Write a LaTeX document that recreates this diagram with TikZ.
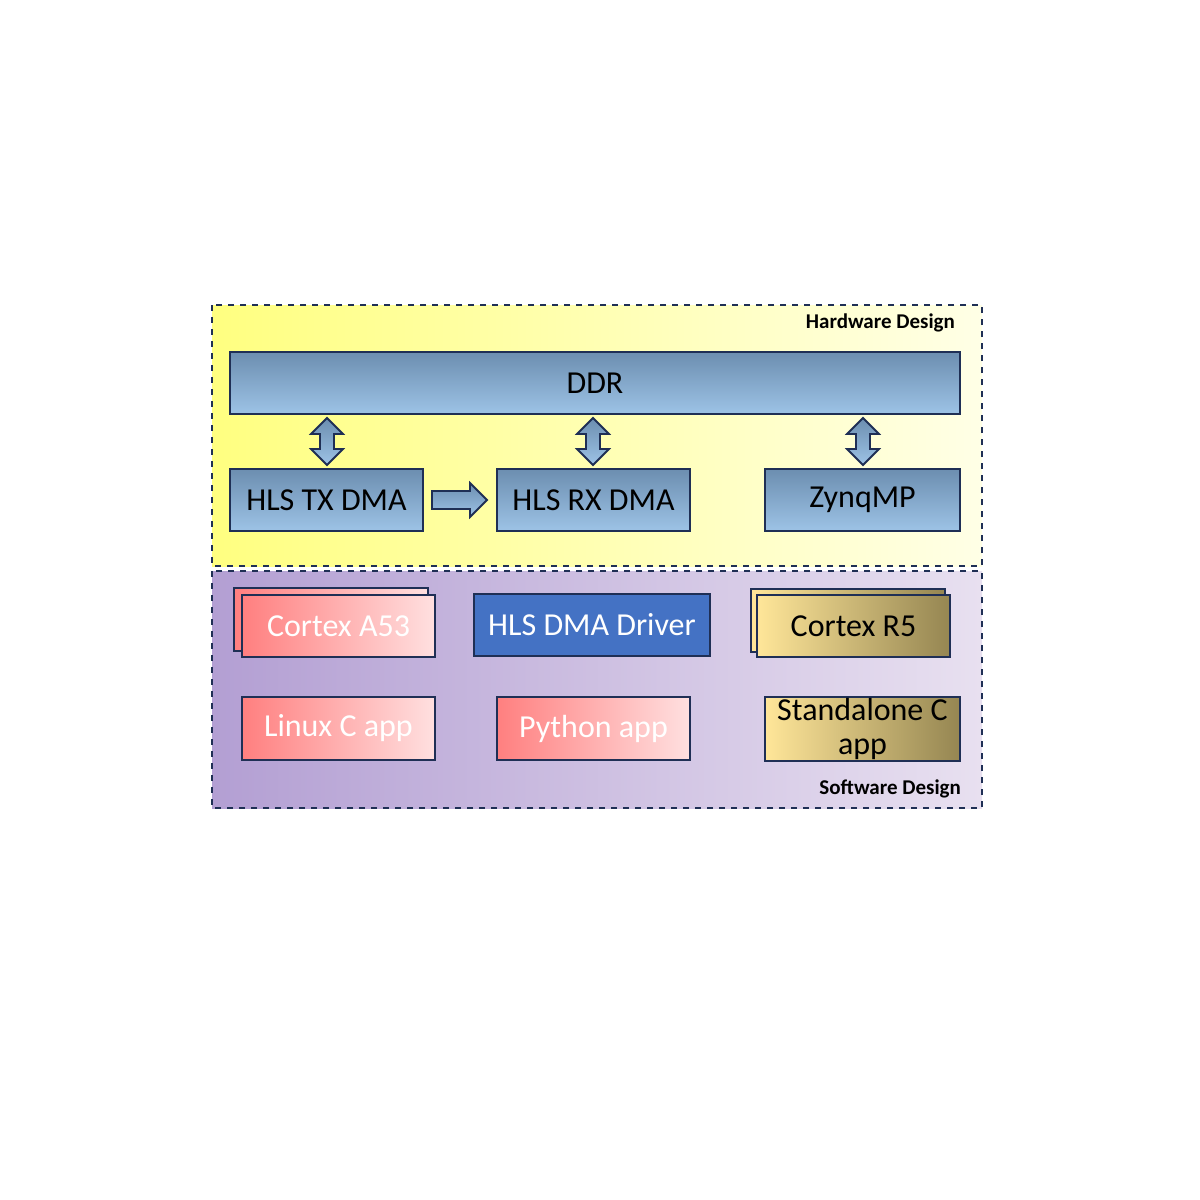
\documentclass[tikz,border=0pt]{standalone}
\usepackage{fontspec}
\setmainfont{Carlito}
\begin{document}
\begin{tikzpicture}[x=0.5pt,y=-0.5pt]
\definecolor{hwA}{HTML}{FFFF80}\definecolor{hwB}{HTML}{FFFFE6}
\definecolor{swA}{HTML}{B39FD3}\definecolor{swB}{HTML}{E8E0F0}
\definecolor{bdA}{HTML}{6C8EB0}\definecolor{bdB}{HTML}{9DC3E6}
\definecolor{pkA}{HTML}{FF7F7F}\definecolor{pkB}{HTML}{FFE0E0}
\definecolor{gdA}{HTML}{FFE699}\definecolor{gdB}{HTML}{958652}
\definecolor{ln}{HTML}{1F2F55}
\tikzset{
  edge/.style={draw=ln, line width=0.9pt},
  txt/.style={font=\fontsize{16}{19}\selectfont},
  bluebox/.style={edge, txt, top color=bdA, bottom color=bdB},
  pinkbox/.style={edge, txt, shading=axis, left color=pkA, right color=pkB, text=white},
  goldbox/.style={edge, txt, left color=gdA, right color=gdB},
  arr/.style={edge, top color=bdA, bottom color=bdB},
  region/.style={draw=ln, dashed, line width=0.9pt},
  lbl/.style={anchor=east, font=\fontsize{10.5}{12}\selectfont\bfseries}}
\useasboundingbox (0,0) rectangle (1200,1200);
% regions
\path[shading=axis, shading angle=-30, left color=hwA, right color=hwB] (212,305) rectangle (982,566);
\draw[region] (212,305) rectangle (982,566);
\path[shading=axis, shading angle=-30, left color=swA, right color=swB] (212,571) rectangle (982,808);
\draw[region] (212,571) rectangle (982,808);
\node[lbl] (hwl) at (962,323) {Hardware Design};
\node[lbl] (swl) at (968,789) {Software Design};
% hardware
\node[bluebox, minimum width=365pt, minimum height=31pt] (ddr) at (595,383) {DDR};
\node[bluebox, minimum width=96.5pt, minimum height=31pt] (tx) at (326.5,500) {HLS TX DMA};
\node[bluebox, minimum width=96.5pt, minimum height=31pt] (rx) at (593.5,500) {HLS RX DMA};
\node[bluebox, minimum width=97.5pt, minimum height=31pt] (zq) at (862.5,500) {ZynqMP};
\foreach \c in {327,593,863}{
  \path[arr] (\c,418) -- (\c+16,434) -- (\c+7,434) -- (\c+7,449) -- (\c+16,449) -- (\c,465)
     -- (\c-16,449) -- (\c-7,449) -- (\c-7,434) -- (\c-16,434) -- cycle;
}
\path[arr] (432,491) -- (470,491) -- (470,483) -- (487,500) -- (470,517) -- (470,509) -- (432,509) -- cycle;
% software
\draw[pinkbox] (234,588) rectangle (428,651);
\node[pinkbox, minimum width=96.5pt, minimum height=31pt] (a53) at (338.5,626) {Cortex A53};
\node[edge, txt, fill={rgb,255:red,68;green,114;blue,196}, text=white, minimum width=118pt, minimum height=31pt] (drv) at (592,625) {HLS DMA Driver};
\draw[goldbox] (751,589) rectangle (945,652);
\node[goldbox, minimum width=96.5pt, minimum height=31pt] (r5) at (853.5,626) {Cortex R5};
\node[pinkbox, minimum width=96.5pt, minimum height=31.5pt] (lin) at (338.5,728.5) {Linux C app};
\node[pinkbox, minimum width=96.5pt, minimum height=31.5pt] (py) at (593.5,728.5) {Python app};
\node[goldbox, minimum width=97.5pt, minimum height=32pt, align=center, font=\fontsize{16}{17}\selectfont, inner sep=0pt] (sa) at (862.5,729) {Standalone C\\app};
\end{tikzpicture}
\end{document}
